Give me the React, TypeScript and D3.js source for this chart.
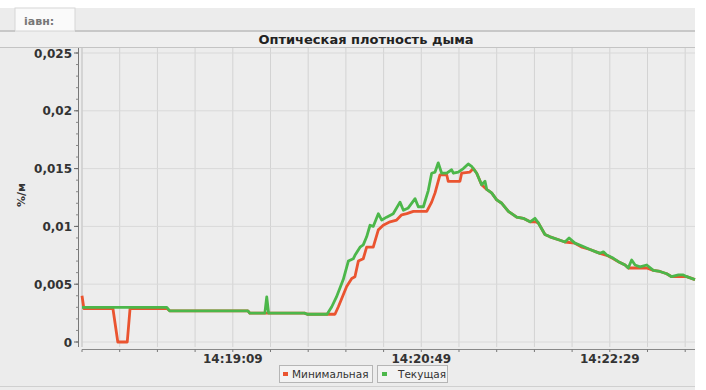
import React from "react";
import * as d3 from "d3";

const START_SEC = 14 * 3600 + 17 * 60 + 49; // 14:17:49
const yTicks = [0, 0.005, 0.01, 0.015, 0.02, 0.025];
const yTickLabels = ["0", "0,005", "0,01", "0,015", "0,02", "0,025"];
const seriesNames = ["Минимальная", "Текущая"];
const title = "Оптическая плотность дыма";
const yLabel = "%/м";
const tabLabel = "іавн:";

// seconds after 14:17:49
const tekT = [0,45,46.5,88,89,97,98,99,118,119.5,130,132.5,135,138.6,141.3,143.9,144.8,147.5,149.2,151,152.8,154.5,157.2,159,161.6,165.1,168.7,170.5,173.1,176.7,178.4,181.1,183.7,185.5,187.3,189,190.8,193.5,196.1,197,199.6,202.3,204.9,206.7,209.4,212,213.8,214.7,217.3,220,222.7,226.2,230.6,234.1,237.7,240.3,242.1,245.6,248.3,253.6,256.2,258.4,261.5,265.3,269.5,272.7,274.8,276.6,278.4,281.9,284.6,288.1,289.8,291.6,293.4,296,299.6,303.1,306.6,310.2,312.8,316.4,319,320.8,325.2];
const tekV = [0.0030,0.0030,0.0027,0.0027,0.0025,0.0025,0.0039,0.0025,0.0025,0.0024,0.0024,0.00305,0.0039,0.0054,0.0070,0.0072,0.0075,0.0082,0.0084,0.0091,0.0101,0.0100,0.0111,0.01055,0.0108,0.0111,0.0121,0.0114,0.0116,0.0124,0.0117,0.0117,0.0131,0.0146,0.0147,0.0155,0.0146,0.0146,0.0149,0.0146,0.0147,0.0150,0.0154,0.0152,0.0146,0.0136,0.0139,0.0132,0.0129,0.0123,0.0120,0.0113,0.0108,0.0107,0.0104,0.0107,0.0103,0.0093,0.0091,0.0088,0.00865,0.0090,0.00855,0.0083,0.0080,0.0078,0.00767,0.0078,0.00753,0.00724,0.00695,0.00666,0.0064,0.0071,0.00666,0.0065,0.00666,0.0062,0.0061,0.0059,0.00565,0.0058,0.0058,0.00565,0.0054];

const minT = [0,1,16.4,19,24,25.5,45,46.5,88,89,118,119.5,134.2,136,140.4,143.1,144.8,146.6,149.2,151,154.5,157.2,159.8,163.4,166.9,169.6,172.3,175.8,182.9,185.5,187.3,189.9,193.5,194.3,200.5,201.4,205.8,207.6,209.4,212,214.7,217.3,220,222.7,226.2,230.6,234.1,237.7,240.3,242.1,245.6,248.3,253.6,256.2,261.5,265.3,269.5,272.7,274.8,278.4,281.9,284.6,288.1,289.8,299.6,303.1,306.6,310.2,312.8,320.8,325.2];
const minV = [0.0040,0.0029,0.0029,0,0,0.0029,0.0029,0.0027,0.0027,0.0025,0.0025,0.0024,0.0024,0.00305,0.0048,0.0055,0.00565,0.0070,0.0072,0.0082,0.0082,0.0097,0.0101,0.0104,0.01055,0.0110,0.0111,0.0113,0.0113,0.0121,0.0129,0.01445,0.01445,0.0139,0.0139,0.0146,0.0147,0.0150,0.0146,0.0136,0.0132,0.0129,0.0123,0.0120,0.0113,0.0108,0.0107,0.0104,0.0104,0.0103,0.0093,0.0091,0.0088,0.00865,0.00855,0.0082,0.0080,0.0078,0.00767,0.0075,0.0072,0.00695,0.00666,0.0064,0.0064,0.0062,0.0061,0.0059,0.00565,0.00565,0.0054];

const colors = ["#ea5430", "#4cb74a"];

const plot = { left: 82, right: 695, top: 48, bottom: 347 };

function fmt(t: number) {
  const s = START_SEC + t;
  const h = Math.floor(s / 3600);
  const m = Math.floor((s % 3600) / 60);
  const sec = Math.round(s % 60);
  const p = (n: number) => String(n).padStart(2, "0");
  return `${p(h)}:${p(m)}:${p(sec)}`;
}

export default function App() {
  const x = d3.scaleLinear().domain([0, 325.2]).range([plot.left, plot.right]);
  const y = d3.scaleLinear().domain([0, 0.025]).range([342, 53]);
  const xTicks = d3.range(0, 326, 20);
  const yMinor = d3.range(0, 0.0251, 0.001);
  const line = d3
    .line<[number, number]>()
    .x((d) => x(d[0]))
    .y((d) => y(d[1]));
  const redPts = minT.map((t, i) => [t, minV[i]] as [number, number]);
  const greenPts = tekT.map((t, i) => [t, tekV[i]] as [number, number]);
  const font = "'DejaVu Sans', Verdana, sans-serif";

  return (
    <svg width={706} height={390} style={{ position: "absolute", left: 0, top: 0 }} fontFamily={font}>
      <rect x={0} y={0} width={706} height={390} fill="#ffffff" />
      <rect x={0} y={8} width={695} height={382} fill="#ececec" />
      {/* tab */}
      <rect x={15} y={8} width={60} height={23} fill="#fafafa" stroke="#d6d6d6" />
      <text x={24} y={25} fontSize={11} fontWeight="bold" fill="#777">{tabLabel}</text>
      <line x1={75} x2={695} y1={31} y2={31} stroke="#bdbdbd" strokeWidth={1.5} />
      <line x1={0} x2={15} y1={31} y2={31} stroke="#bdbdbd" strokeWidth={1.5} />
      <rect x={0} y={32} width={695} height={15} fill="#efefef" />
      <text x={366} y={44} textAnchor="middle" fontSize={13} fontWeight="bold" fill="#222">{title}</text>
      <line x1={0} x2={695} y1={47.5} y2={47.5} stroke="#c4c4c4" />
      {/* plot area */}
      <rect x={plot.left} y={plot.top} width={plot.right - plot.left} height={plot.bottom - plot.top} fill="#ededed" />
      {xTicks.map((t) => (
        <line key={"gx" + t} x1={x(t)} x2={x(t)} y1={plot.top} y2={plot.bottom} stroke="#d3d3d3" strokeWidth={1} />
      ))}
      {yTicks.map((v) => (
        <line key={"gy" + v} x1={plot.left} x2={plot.right} y1={y(v)} y2={y(v)} stroke="#d9d9d9" strokeWidth={1} />
      ))}
      <line x1={plot.left} x2={plot.left} y1={plot.top} y2={plot.bottom} stroke="#c8c8c8" />
      {/* y axis */}
      <line x1={78.5} x2={78.5} y1={plot.top} y2={plot.bottom} stroke="#777" />
      {yMinor.map((v, i) => (
        <line key={"ym" + i} x1={76} x2={78.5} y1={y(v)} y2={y(v)} stroke="#888" />
      ))}
      {yTicks.map((v, i) => (
        <g key={"yt" + v}>
          <line x1={74} x2={78.5} y1={y(v)} y2={y(v)} stroke="#666" />
          <text x={72} y={y(v) + 4.5} textAnchor="end" fontSize={12} fontWeight="bold" fill="#333">{yTickLabels[i]}</text>
        </g>
      ))}
      <text transform={`translate(25,195) rotate(-90)`} textAnchor="middle" fontSize={11} fontWeight="bold" fill="#333">{yLabel}</text>
      {/* x axis */}
      <line x1={plot.left} x2={plot.right} y1={349.5} y2={349.5} stroke="#888" />
      {xTicks.map((t) => (
        <g key={"xt" + t}>
          <line x1={x(t)} x2={x(t)} y1={349.5} y2={352} stroke="#777" />
          {t % 100 === 80 && (
            <text x={x(t)} y={363} textAnchor="middle" fontSize={12} fontWeight="bold" fill="#333">{fmt(t)}</text>
          )}
        </g>
      ))}
      {/* series */}
      <path d={line(redPts) || ""} fill="none" stroke={colors[0]} strokeWidth={2.8} strokeLinejoin="round" />
      <path d={line(greenPts) || ""} fill="none" stroke={colors[1]} strokeWidth={2.8} strokeLinejoin="round" />
      {/* legend */}
      <g>
        <rect x={279.5} y={365.5} width={93} height={17} fill="#f2f2f2" stroke="#b5b5b5" />
        <rect x={283} y={372} width={5} height={4} fill={colors[0]} />
        <text x={292} y={378} fontSize={10.5} fill="#333">{seriesNames[0]}</text>
        <rect x={377.5} y={365.5} width={70} height={17} fill="#f2f2f2" stroke="#b5b5b5" />
        <rect x={382} y={372} width={5} height={4} fill={colors[1]} />
        <text x={398} y={378} fontSize={10.5} fill="#333">{seriesNames[1]}</text>
      </g>
      <line x1={0} x2={695} y1={386.5} y2={386.5} stroke="#d0d0d0" />
    </svg>
  );
}
